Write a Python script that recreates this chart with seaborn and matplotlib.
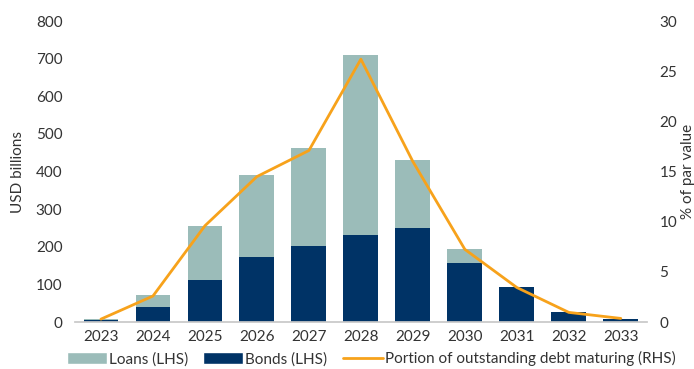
import numpy as np
import pandas as pd
import matplotlib
matplotlib.use("Agg")
import matplotlib.pyplot as plt
import seaborn as sns
from matplotlib.patches import Patch
from matplotlib.lines import Line2D

years = ["2023", "2024", "2025", "2026", "2027", "2028", "2029", "2030", "2031", "2032", "2033"]
bonds = [5, 40, 111, 173, 201, 232, 251, 158, 93, 26, 8]
loans = [3, 31, 144, 219, 261, 478, 181, 37, 0, 0, 0]
portion_maturing = [0.3, 2.6, 9.6, 14.5, 17.1, 26.2, 16.0, 7.25, 3.45, 0.97, 0.37]

LOAN_COLOR = "#9bbcb9"
BOND_COLOR = "#003366"
LINE_COLOR = "#f7a21b"
TEXT_COLOR = "#333333"
FS = 11

sns.set_theme(style="white")
plt.rcParams["font.family"] = ["Lato", "DejaVu Sans"]
plt.rcParams["text.color"] = TEXT_COLOR

df = pd.DataFrame({"year": years, "bonds": bonds, "loans": loans,
                   "portion": portion_maturing})
df["total"] = df["bonds"] + df["loans"]

fig = plt.figure(figsize=(6.94, 3.69), dpi=100)
ax = fig.add_axes([0.108, 0.127, 0.824, 0.816])

# stacked bars: full height in the loan colour, bonds drawn over the base
sns.barplot(data=df, x="year", y="total", color=LOAN_COLOR, width=0.67,
            saturation=1, ax=ax, order=years, linewidth=0)
sns.barplot(data=df, x="year", y="bonds", color=BOND_COLOR, width=0.67,
            saturation=1, ax=ax, order=years, linewidth=0)

ax2 = ax.twinx()
sns.pointplot(data=df, x="year", y="portion", color=LINE_COLOR, markers="",
              linestyles="-", order=years, ax=ax2)
for ln in ax2.lines:
    ln.set_linewidth(2)

ax.set_xlim(-0.5, 10.5)
ax.set_ylim(0, 800)
ax.set_yticks(range(0, 801, 100))
ax2.set_ylim(0, 30)
ax2.set_yticks(range(0, 31, 5))

for a in (ax, ax2):
    for s in a.spines.values():
        s.set_visible(False)
    a.tick_params(length=0, labelsize=FS, colors=TEXT_COLOR)
    a.grid(False)
ax.spines["bottom"].set_visible(True)
ax.spines["bottom"].set_color("#c8c8c8")
ax.tick_params(axis="x", pad=6)
ax.tick_params(axis="y", pad=9)
ax2.tick_params(axis="y", pad=9)

ax.set_xlabel("")
ax.set_ylabel("USD billions", fontsize=FS, color=TEXT_COLOR, labelpad=8)
ax2.set_ylabel("% of par value", fontsize=FS, color=TEXT_COLOR, labelpad=3)

handles = [Patch(facecolor=LOAN_COLOR, label="Loans (LHS)"),
           Patch(facecolor=BOND_COLOR, label="Bonds (LHS)"),
           Line2D([], [], color=LINE_COLOR, lw=2,
                  label="Portion of outstanding debt maturing (RHS)")]
fig.legend(handles=handles, loc="lower center", bbox_to_anchor=(0.535, -0.03),
           ncol=3, frameon=False, fontsize=FS, handlelength=2.6,
           handleheight=0.8, handletextpad=0.15, columnspacing=1.0)

fig.savefig("out.png", dpi=100)
